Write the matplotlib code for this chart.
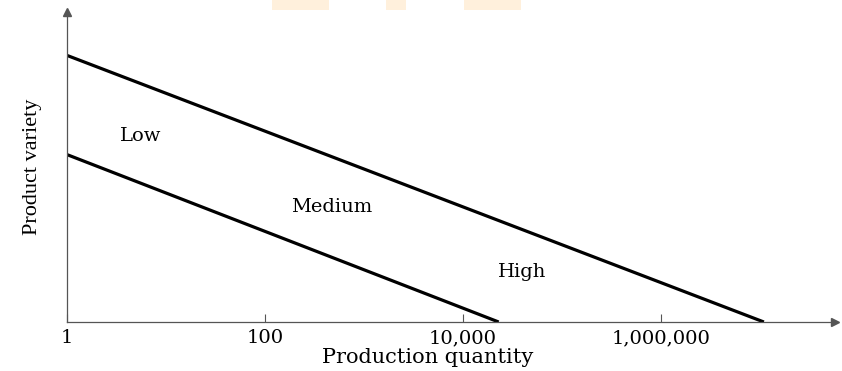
import numpy as np
import matplotlib.pyplot as plt
from matplotlib.patches import Rectangle

# Production quantity (log scale) vs product variety (arbitrary units)
upper_qty = [1, 1.1e7]
upper_variety = [8.6, 0]
lower_qty = [1, 2.3e4]
lower_variety = [5.4, 0]

tick_values = [1, 100, 10000, 1000000]
tick_labels = ['1', '100', '10,000', '1,000,000']

region_names = ['Low', 'Medium', 'High']
region_qty = [5.6, 470, 40000]
region_variety = [6.0, 3.7, 1.6]

plt.rcParams['font.family'] = ['DejaVu Serif']

fig = plt.figure(figsize=(8.42, 3.71), dpi=100)
ax = fig.add_axes([67 / 842, 49 / 371, (835 - 67) / 842, (322 - 12) / 371])

ax.plot(upper_qty, upper_variety, color='black', linewidth=2.3, solid_capstyle='butt')
ax.plot(lower_qty, lower_variety, color='black', linewidth=2.3, solid_capstyle='butt')

for name, q, v in zip(region_names, region_qty, region_variety):
    ax.text(q, v, name, fontsize=14, ha='center', va='center', color='black')

ax.set_xscale('log')
ax.set_xlim(1, 10 ** 7.76)
ax.set_ylim(0, 10)
ax.set_xticks(tick_values)
ax.set_xticklabels(tick_labels, fontsize=14, color='black')
ax.minorticks_off()
ax.tick_params(axis='x', direction='in', length=6, width=0.8, color='#555555', pad=5)
ax.set_yticks([])

for side in ['top', 'right']:
    ax.spines[side].set_visible(False)
for side in ['left', 'bottom']:
    ax.spines[side].set_color('#555555')
    ax.spines[side].set_linewidth(0.9)

# arrow heads at the ends of the axes
ax.plot(1, 0, '>', color='#555555', markersize=6, transform=ax.transAxes, clip_on=False)
ax.plot(0, 1, '^', color='#555555', markersize=6, transform=ax.transAxes, clip_on=False)

ax.set_xlabel('Production quantity', fontsize=15, color='black')
ax.xaxis.set_label_coords(0.47, -0.085)
ax.set_ylabel('Product variety', fontsize=16, family=['Liberation Serif'], labelpad=18)

# faint watermark remnants along the top edge of the scan
for x0, w in [(272, 57), (386, 20), (464, 57)]:
    fig.add_artist(Rectangle((x0 / 842, 1 - 10 / 371), w / 842, 10 / 371,
                             transform=fig.transFigure, color='#fff0dc', lw=0))

fig.savefig('out.png', dpi=100, facecolor='white')
